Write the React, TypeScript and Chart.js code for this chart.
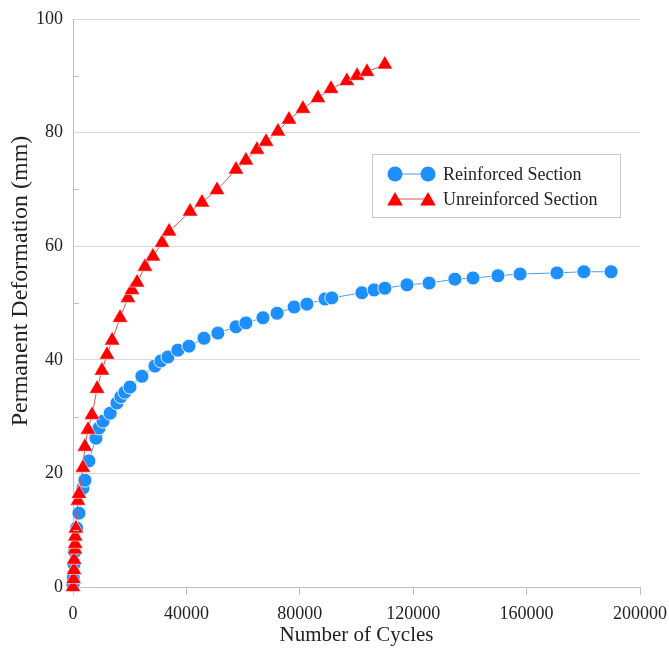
import { useEffect, useRef } from 'react';
import { Chart, registerables } from 'chart.js';

Chart.register(...registerables);

const reinforcedCycles = [0, 100, 350, 600, 1300, 2100, 3500, 4200, 5600, 8100, 9200, 10600, 13100, 15500, 16900, 18300, 20100, 24300, 28900, 31000, 33500, 37000, 40900, 46200, 51100, 57500, 61000, 67000, 72000, 78000, 82500, 88900, 91300, 101900, 106200, 110000, 117800, 125600, 134700, 141100, 149900, 157700, 170700, 180200, 189800];
const reinforcedDeformation = [0.3, 1.6, 4.0, 6.2, 10.4, 13.0, 17.4, 18.8, 22.2, 26.2, 28.0, 29.2, 30.6, 32.4, 33.5, 34.3, 35.2, 37.1, 38.9, 39.8, 40.5, 41.7, 42.4, 43.8, 44.7, 45.8, 46.5, 47.4, 48.2, 49.3, 49.8, 50.7, 50.9, 51.8, 52.3, 52.6, 53.2, 53.5, 54.2, 54.4, 54.8, 55.1, 55.3, 55.5, 55.5];

const unreinforcedCycles = [0, 200, 350, 400, 700, 750, 800, 1000, 1750, 2100, 3500, 4200, 5300, 6700, 8500, 10200, 12000, 13800, 16600, 19400, 20800, 22600, 25400, 28200, 31400, 33900, 41300, 45500, 50800, 57500, 61000, 64900, 68100, 72300, 76200, 81100, 86400, 91000, 96600, 100200, 103700, 110000];
const unreinforcedDeformation = [0, 1.4, 3.0, 4.8, 6.6, 7.6, 8.9, 10.3, 15.2, 16.4, 21.0, 24.7, 27.7, 30.3, 34.9, 38.1, 40.9, 43.4, 47.4, 50.9, 52.3, 53.6, 56.4, 58.2, 60.6, 62.6, 66.1, 67.7, 69.9, 73.5, 75.1, 77.0, 78.4, 80.2, 82.3, 84.2, 86.1, 87.7, 89.1, 90.0, 90.7, 92.0];

const seriesNames = ['Reinforced Section', 'Unreinforced Section'];
const xTickValues = [0, 40000, 80000, 120000, 160000, 200000];
const yTickValues = [0, 20, 40, 60, 80, 100];
const xTitle = 'Number of Cycles';
const yTitle = 'Permanent Deformation (mm)';

const BLUE = '#1E8FFF';
const BLUE_LINE = '#4A9DE8';
const RED = '#FF0000';
const RED_LINE = '#E05050';
const TEXT = '#222222';
const FONT = "'Liberation Serif', 'DejaVu Serif', serif";

const legendPlugin = {
  id: 'boxLegend',
  afterDraw(chart: any) {
    const ctx = chart.ctx as CanvasRenderingContext2D;
    const bx = 372, by = 154, bw = 248, bh = 63;
    ctx.save();
    ctx.fillStyle = '#ffffff';
    ctx.fillRect(bx, by, bw, bh);
    ctx.strokeStyle = '#c8c8c8';
    ctx.lineWidth = 1;
    ctx.strokeRect(bx + 0.5, by + 0.5, bw, bh);
    const rows = [
      { y: 174, color: BLUE, line: BLUE_LINE, style: 'circle' },
      { y: 199, color: RED, line: RED_LINE, style: 'triangle' },
    ];
    rows.forEach((r, i) => {
      const x1 = 395, x2 = 428;
      ctx.strokeStyle = r.line;
      ctx.lineWidth = 1;
      ctx.beginPath();
      ctx.moveTo(x1, r.y);
      ctx.lineTo(x2, r.y);
      ctx.stroke();
      [x1, x2].forEach((x) => {
        ctx.fillStyle = r.color;
        ctx.beginPath();
        if (r.style === 'circle') {
          ctx.arc(x, r.y, 7.5, 0, Math.PI * 2);
        } else {
          const rad = 9;
          const cy = r.y + 2;
          ctx.moveTo(x, cy - rad);
          ctx.lineTo(x + rad * 0.866, cy + rad / 2);
          ctx.lineTo(x - rad * 0.866, cy + rad / 2);
          ctx.closePath();
        }
        ctx.fill();
      });
      ctx.fillStyle = TEXT;
      ctx.font = `18px ${FONT}`;
      ctx.textBaseline = 'middle';
      ctx.textAlign = 'left';
      ctx.fillText(seriesNames[i], 443, r.y + 1);
    });
    ctx.restore();
  },
};

const minorTickPlugin = {
  id: 'minorTicks',
  afterDraw(chart: any) {
    const ctx = chart.ctx as CanvasRenderingContext2D;
    const y = chart.scales.y;
    const left = chart.chartArea.left;
    ctx.save();
    ctx.strokeStyle = '#bfbfbf';
    ctx.lineWidth = 1;
    for (let i = 0; i < yTickValues.length - 1; i++) {
      const v = (yTickValues[i] + yTickValues[i + 1]) / 2;
      const py = Math.round(y.getPixelForValue(v)) + 0.5;
      ctx.beginPath();
      ctx.moveTo(left, py);
      ctx.lineTo(left + 6, py);
      ctx.stroke();
    }
    ctx.restore();
  },
};

const yTitlePlugin = {
  id: 'yTitle',
  afterDraw(chart: any) {
    const ctx = chart.ctx as CanvasRenderingContext2D;
    ctx.save();
    ctx.translate(21, 281);
    ctx.rotate(-Math.PI / 2);
    ctx.fillStyle = TEXT;
    ctx.font = `24px ${FONT}`;
    ctx.textAlign = 'center';
    ctx.textBaseline = 'middle';
    ctx.fillText(yTitle, 0, 0);
    ctx.restore();
  },
};

export default function App() {
  const ref = useRef<HTMLCanvasElement | null>(null);
  useEffect(() => {
    document.body.style.margin = '0';
    if (!ref.current) return;
    const chart = new Chart(ref.current, {
      type: 'scatter',
      data: {
        datasets: [
          {
            label: seriesNames[0],
            data: reinforcedCycles.map((x, i) => ({ x, y: reinforcedDeformation[i] })),
            showLine: true,
            borderColor: BLUE_LINE,
            borderWidth: 1,
            pointStyle: 'circle',
            pointRadius: 7,
            pointBackgroundColor: BLUE,
            pointBorderColor: 'rgba(255,255,255,0.85)',
            pointBorderWidth: 1,
            clip: false,
            order: 1,
          },
          {
            label: seriesNames[1],
            data: unreinforcedCycles.map((x, i) => ({ x, y: unreinforcedDeformation[i] })),
            showLine: true,
            borderColor: RED_LINE,
            borderWidth: 1,
            pointStyle: 'triangle',
            pointRadius: 9,
            pointBackgroundColor: RED,
            pointBorderColor: 'rgba(255,255,255,0.7)',
            pointBorderWidth: 0.8,
            clip: false,
            order: 0,
          },
        ],
      },
      options: {
        animation: false,
        responsive: false,
        maintainAspectRatio: false,
        devicePixelRatio: 1,
        layout: { autoPadding: false, padding: { top: 19, right: 29, left: 0, bottom: 0 } },
        plugins: {
          legend: { display: false },
          tooltip: { enabled: false },
        },
        scales: {
          x: {
            type: 'linear',
            min: 0,
            max: 200000,
            afterFit: (s: any) => { s.height = 61; s.paddingLeft = 0; s.paddingRight = 0; },
            afterBuildTicks: (s: any) => { s.ticks = xTickValues.map((v) => ({ value: v })); },
            ticks: {
              color: TEXT,
              font: { family: FONT, size: 18 },
              padding: 8,
              maxRotation: 0,
              autoSkip: false,
              callback: (v: any) => String(v),
            },
            grid: { drawOnChartArea: false, drawTicks: true, tickLength: 8, color: '#bfbfbf' },
            border: { color: '#bfbfbf' },
            title: {
              display: true,
              text: xTitle,
              color: TEXT,
              font: { family: FONT, size: 21 },
              padding: { top: 0, bottom: 0 },
            },
          },
          y: {
            type: 'linear',
            min: 0,
            max: 100,
            afterFit: (s: any) => { s.width = 73; s.paddingTop = 0; s.paddingBottom = 0; },
            afterBuildTicks: (s: any) => { s.ticks = yTickValues.map((v) => ({ value: v })); },
            ticks: {
              color: TEXT,
              font: { family: FONT, size: 18 },
              padding: 10,
              autoSkip: false,
              callback: (v: any) => String(v),
            },
            grid: { drawTicks: false, color: '#d9d9d9' },
            border: { color: '#bfbfbf' },
          },
        },
      },
      plugins: [minorTickPlugin, yTitlePlugin, legendPlugin],
    });
    return () => chart.destroy();
  }, []);
  return (
    <div style={{ width: 669, height: 648 }}>
      <canvas ref={ref} width={669} height={648} style={{ display: 'block', width: 669, height: 648 }} />
    </div>
  );
}
